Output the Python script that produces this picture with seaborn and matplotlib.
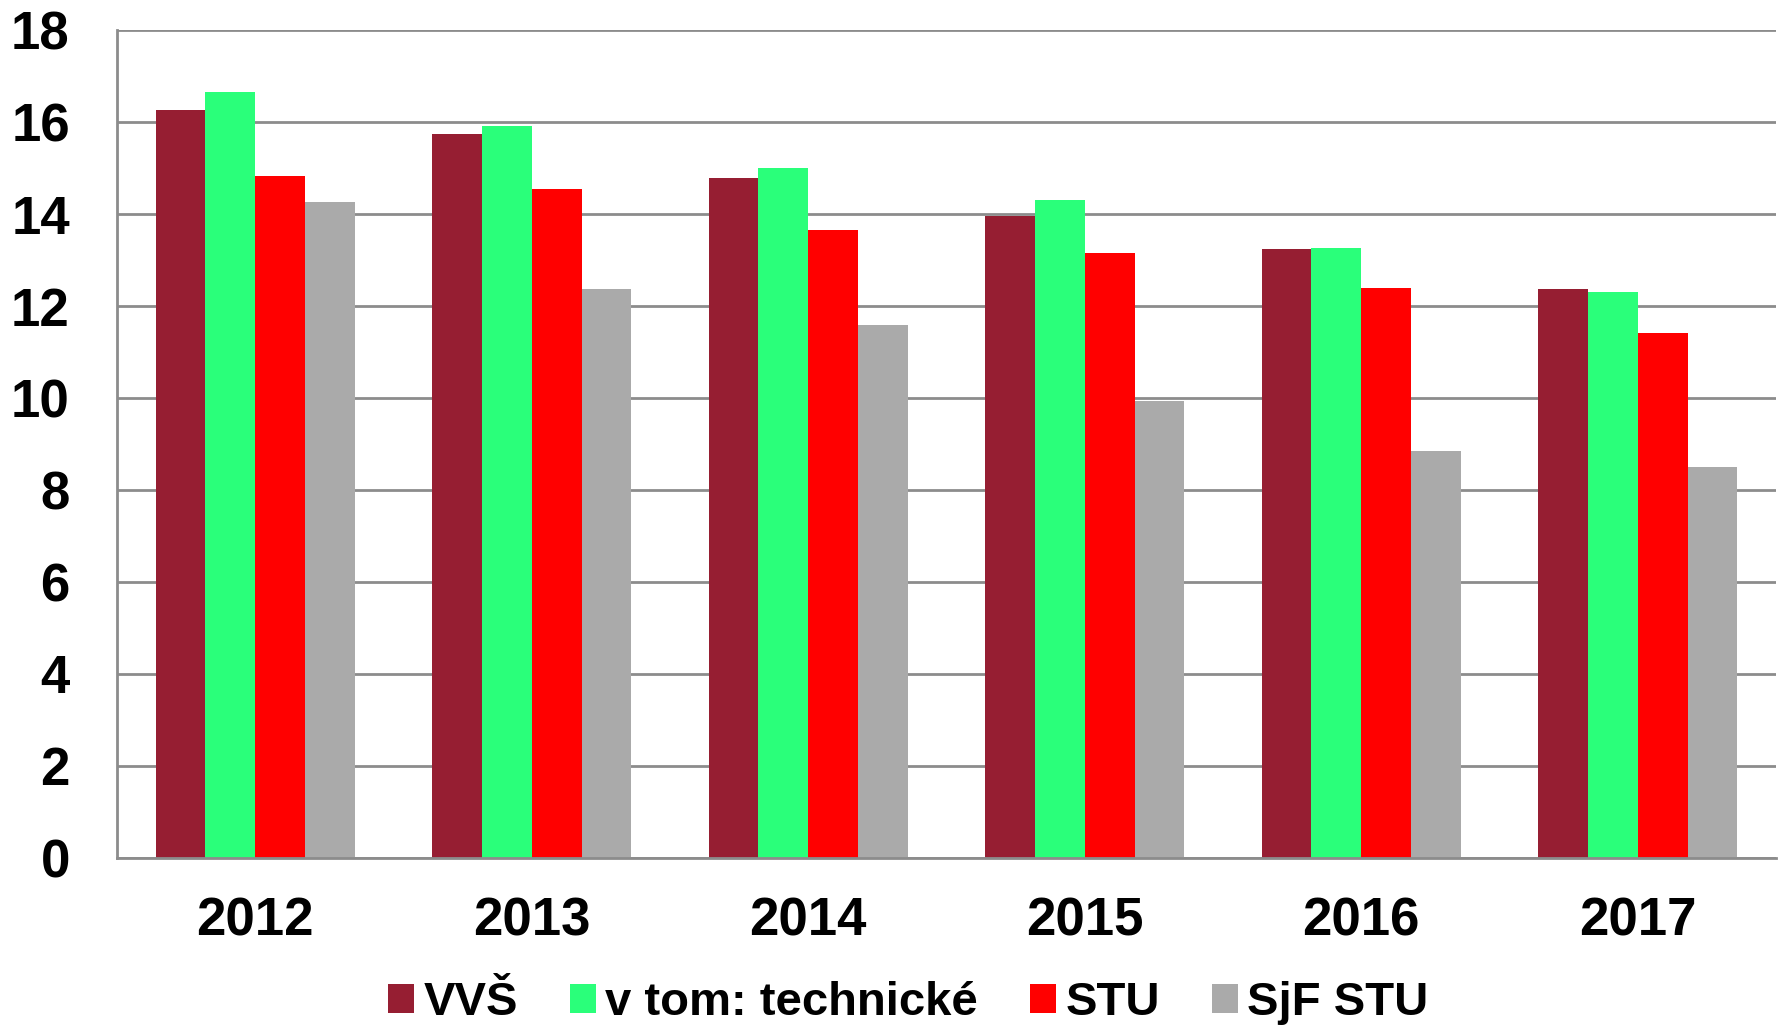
import numpy as np
import pandas as pd
import matplotlib
matplotlib.use("Agg")
import matplotlib.pyplot as plt
import seaborn as sns

years = ["2012", "2013", "2014", "2015", "2016", "2017"]
series = ["VVŠ", "v tom: technické", "STU", "SjF STU"]
vvs = [16.26, 15.74, 14.78, 13.96, 13.25, 12.38]
technicke = [16.65, 15.91, 15.00, 14.31, 13.27, 12.31]
stu = [14.83, 14.55, 13.66, 13.15, 12.40, 11.42]
sjf_stu = [14.26, 12.36, 11.59, 9.94, 8.85, 8.50]
colors = ["#961E32", "#2AFF7A", "#FF0000", "#AAAAAA"]

df = pd.DataFrame({
    "rok": years * 4,
    "hodnota": vvs + technicke + stu + sjf_stu,
    "skupina": [s for s in series for _ in years],
})

sns.set_style("white")
plt.rcParams["font.family"] = ["Liberation Sans", "DejaVu Sans"]
plt.rcParams["font.weight"] = "bold"
plt.rcParams["text.color"] = "black"
plt.rcParams["xtick.color"] = "black"
plt.rcParams["ytick.color"] = "black"

fig = plt.figure(figsize=(17.81, 10.29), dpi=100)
ax = fig.add_axes([0.0657, 0.1662, 0.9315, 0.8046])

sns.barplot(data=df, x="rok", y="hodnota", hue="skupina", hue_order=series,
            palette=colors, width=0.72, linewidth=0, saturation=1, ax=ax)

ax.set_ylim(0, 18)
ax.set_xlim(-0.5, 5.5)
ax.set_yticks(np.arange(0, 19, 2))
ax.yaxis.grid(True, color="#8c8c8c", linewidth=2)
ax.set_axisbelow(True)
ax.set_xlabel("")
ax.set_ylabel("")

for side in ["top", "right"]:
    ax.spines[side].set_visible(False)
for side in ["left", "bottom"]:
    ax.spines[side].set_color("#8c8c8c")
    ax.spines[side].set_linewidth(2)

ax.tick_params(axis="y", length=17, width=2, color="#8c8c8c",
               labelcolor="black", labelsize=38, pad=17)
ax.tick_params(axis="x", which="major", length=0, labelcolor="black",
               labelsize=38, pad=28)
ax.set_xticks(np.arange(-0.5, 6, 1), minor=True)
ax.tick_params(axis="x", which="minor", length=14, width=2, color="#8c8c8c")
for lbl in ax.get_xticklabels() + ax.get_yticklabels():
    lbl.set_fontweight("bold")

handles, labels = ax.get_legend_handles_labels()
ax.legend_.remove()
fig.legend(handles, labels, loc="center", bbox_to_anchor=(0.51, 0.025), ncol=4,
           frameon=False, prop={"size": 34, "weight": "bold"},
           labelcolor="black",
           handlelength=0.55, handleheight=0.55, handletextpad=0.2,
           columnspacing=1.1, borderaxespad=0)

fig.savefig("out.png", dpi=100)
